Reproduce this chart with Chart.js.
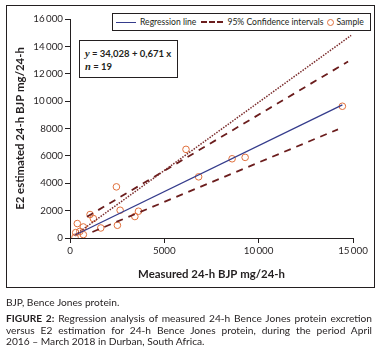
<!DOCTYPE html>
<html>
<head>
<meta charset="utf-8">
<script src="https://cdn.jsdelivr.net/npm/chart.js@4"></script>
<style>
  html, body { margin: 0; padding: 0; background: #fff; }
  body { width: 379px; height: 357px; position: relative; overflow: hidden; font-family: Lato, "Open Sans", sans-serif; color: #231f20; }
  #chart { position: absolute; left: 0; top: 0; }
  .frame { position: absolute; left: 6px; top: 5px; width: 367px; height: 281px; border: 1px solid #231f20; pointer-events: none; }
  .legend { position: absolute; left: 112px; top: 13px; width: 257px; height: 16px; border: 1px solid #231f20; background: #fff;
            font-size: 8.6px; display: flex; align-items: center; white-space: nowrap; }
  .legend .ln { display: inline-block; width: 20px; margin: 0 4px 0 3px; vertical-align: middle; }
  .legend .reg { border-top: 1.5px solid #353c8c; }
  .legend .ci { border-top: 2px dashed #6b1d1d; width: 22px; margin-left: 5px; }
  .legend .dot { display: inline-block; width: 5px; height: 5px; border: 1px solid #e0703c; border-radius: 50%; margin: 0 2px 0 4px; }
  .eq { position: absolute; left: 79px; top: 40px; width: 99px; height: 38px; border: 1px solid #231f20; background: #fff;
        font-size: 9.5px; font-weight: bold; line-height: 13px; padding: 0 0 0 5px; box-sizing: border-box; }
  .eq div:first-child { margin-top: 6px; }
  .eq i { font-family: "Liberation Serif", serif; font-size: 10.5px; }
  .note { position: absolute; left: 6px; top: 296px; font-size: 10.2px; }
  .caption { position: absolute; left: 6px; top: 313px; width: 366px; font-size: 10.2px; line-height: 11.7px; }
  .caption .full { text-align: justify; text-align-last: justify; white-space: nowrap; }
  .caption b { font-weight: bold; }
</style>
</head>
<body>
<canvas id="chart" width="379" height="357"></canvas>
<div class="frame"></div>
<div class="legend">
  <span class="ln reg"></span><span>Regression line</span>
  <span class="ln ci"></span><span>95% Confidence intervals</span>
  <span class="dot"></span><span>Sample</span>
</div>
<div class="eq">
  <div><i>y</i> = 34,028 + 0,671 x</div>
  <div><i>n</i> = 19</div>
</div>
<div class="note">BJP, Bence Jones protein.</div>
<div class="caption">
  <div class="full"><b>FIGURE 2:</b> Regression analysis of measured 24-h Bence Jones protein excretion</div>
  <div class="full">versus E2 estimation for 24-h Bence Jones protein, during the period April</div>
  <div>2016 – March 2018 in Durban, South Africa.</div>
</div>
<script>
// measured 24-h BJP (x) vs E2 estimated 24-h BJP (y), mg/24-h
const sampleX = [14437, 6148, 8592, 9283, 6818, 2460, 2657, 3630, 3438, 2513, 1631, 1063, 1238, 388, 707, 303, 707, 266, 520];
const sampleY = [9626, 6476, 5788, 5890, 4469, 3736, 2029, 1956, 1568, 930, 733, 1714, 1421, 1055, 806, 396, 249, 51, 480];

// line end points
const regX = [250, 14437];
const regY = [200, 9720];
const ciUpperX = [900, 14740];
const ciUpperY = [1550, 12894];
const ciLowerX = [1186, 14205];
const ciLowerY = [440, 7941];
const identX = [300, 14900];
const identY = [250, 14800];

const xTicks = [0, 5000, 10000, 15000];
const xTickLabels = ["0", "5000", "10\u2009000", "15\u2009000"];
const yTicks = [0, 2000, 4000, 6000, 8000, 10000, 12000, 14000, 16000];
const yTickLabels = ["0", "2000", "4000", "6000", "8000", "10\u2009000", "12\u2009000", "14\u2009000", "16\u2009000"];

const INK = "#231f20";
const FONT = "Lato, 'Open Sans', sans-serif";

const pts = (xs, ys) => xs.map((x, i) => ({ x, y: ys[i] }));

function lineSet(xs, ys, color, width, dash) {
  return {
    type: "line",
    data: pts(xs, ys),
    borderColor: color,
    borderWidth: width,
    borderDash: dash,
    pointRadius: 0,
    fill: false,
    tension: 0,
  };
}

new Chart(document.getElementById("chart"), {
  type: "scatter",
  data: {
    datasets: [
      lineSet(identX, identY, "#7a2b2b", 1.5, [1.5, 1.3]),
      lineSet(ciUpperX, ciUpperY, "#6b1d1d", 1.8, [7, 6]),
      lineSet(ciLowerX, ciLowerY, "#6b1d1d", 1.8, [7, 6]),
      lineSet(regX, regY, "#353c8c", 1.3, []),
      {
        data: pts(sampleX, sampleY),
        pointStyle: "circle",
        pointRadius: 3.3,
        borderColor: "#e0703c",
        backgroundColor: "rgba(255,255,255,0)",
        borderWidth: 1,
      },
    ],
  },
  options: {
    responsive: false,
    animation: false,
    devicePixelRatio: 1,
    layout: { padding: { left: 6, top: 19, right: 26, bottom: 76 } },
    plugins: { legend: { display: false }, tooltip: { enabled: false } },
    scales: {
      x: {
        type: "linear",
        min: 0,
        max: 15000,
        afterBuildTicks: (s) => { s.ticks = xTicks.map((v) => ({ value: v })); },
        afterFit: (s) => { s.height = 43; },
        ticks: {
          callback: (v) => xTickLabels[xTicks.indexOf(v)],
          color: INK,
          font: { family: FONT, size: 9.8 },
          padding: 2,
          maxRotation: 0,
        },
        grid: { drawOnChartArea: false, drawTicks: true, tickLength: 5, tickColor: INK },
        border: { display: true, color: INK, width: 1 },
        title: { display: true, text: "Measured 24-h BJP mg/24-h", color: INK, font: { family: FONT, size: 11.4, weight: "bold" }, padding: { top: 8, bottom: 0 } },
      },
      y: {
        type: "linear",
        min: 0,
        max: 16000,
        afterBuildTicks: (s) => { s.ticks = yTicks.map((v) => ({ value: v })); },
        afterFit: (s) => { s.width = 64; },
        ticks: {
          callback: (v) => yTickLabels[yTicks.indexOf(v)],
          color: INK,
          font: { family: FONT, size: 9.8 },
          padding: 2,
        },
        grid: { drawOnChartArea: false, drawTicks: true, tickLength: 5, tickColor: INK },
        border: { display: true, color: INK, width: 1 },
        title: { display: true, text: "E2 estimated 24-h BJP mg/24-h", color: INK, font: { family: FONT, size: 11.4, weight: "bold" }, padding: { top: 7, bottom: 0 } },
      },
    },
  },
});
</script>
</body>
</html>
